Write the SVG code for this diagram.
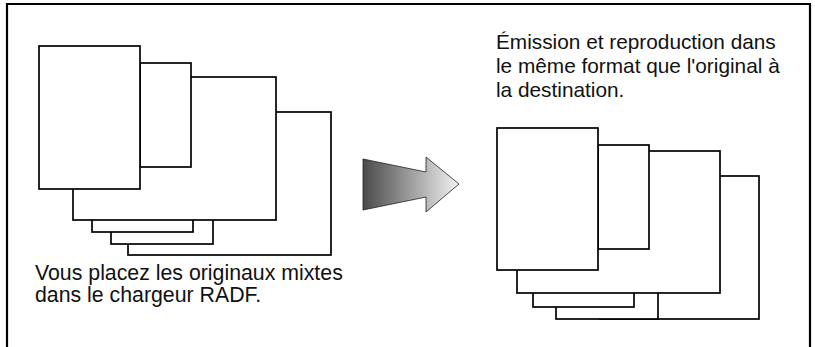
<svg xmlns="http://www.w3.org/2000/svg" width="815" height="347" viewBox="0 0 815 347">
<defs>
<linearGradient id="g" x1="0" y1="0" x2="1" y2="0">
<stop offset="0" stop-color="#4a4a4a"/>
<stop offset="1" stop-color="#f2f2f2"/>
</linearGradient>
<style>
.p{fill:#fff;stroke:#000;stroke-width:1.7}
.t{font-family:"Liberation Sans",Arial,sans-serif;font-size:20.8px;fill:#111}
.tl{font-size:21.3px}
</style>
</defs>
<rect width="815" height="347" fill="#fff"/>
<path d="M7 352V4H810V352" fill="none" stroke="#000" stroke-width="2.2"/>
<g id="left-stack">
<rect class="p" x="128" y="112" width="203" height="143"/>
<rect class="p" x="111" y="200" width="102" height="44"/>
<rect class="p" x="92" y="200" width="101" height="32"/>
<rect class="p" x="73" y="77" width="203" height="143"/>
<rect class="p" x="140" y="63" width="51" height="104"/>
<rect class="p" x="39" y="46" width="101" height="143"/>
</g>
<g id="right-stack">
<rect class="p" x="600" y="176" width="159" height="143"/>
<rect class="p" x="556" y="270" width="102" height="49"/>
<rect class="p" x="533" y="270" width="101" height="37"/>
<rect class="p" x="517" y="151" width="203" height="142"/>
<rect class="p" x="598" y="145" width="51" height="104"/>
<rect class="p" x="497" y="128" width="101" height="142"/>
</g>
<g id="connectors">
<polygon points="363,159 426,172 426,157 459,184 426,212 426,197 363,210" fill="url(#g)" stroke="#222" stroke-width="0.8"/>
</g>
<g id="labels">
<text class="t tl" x="35" y="280">Vous placez les originaux mixtes</text>
<text class="t tl" x="35" y="302">dans le chargeur RADF.</text>
<text class="t" x="496" y="48.5">Émission et reproduction dans</text>
<text class="t" x="496" y="72.5">le même format que l'original à</text>
<text class="t" x="496" y="96.5">la destination.</text>
</g>
</svg>
